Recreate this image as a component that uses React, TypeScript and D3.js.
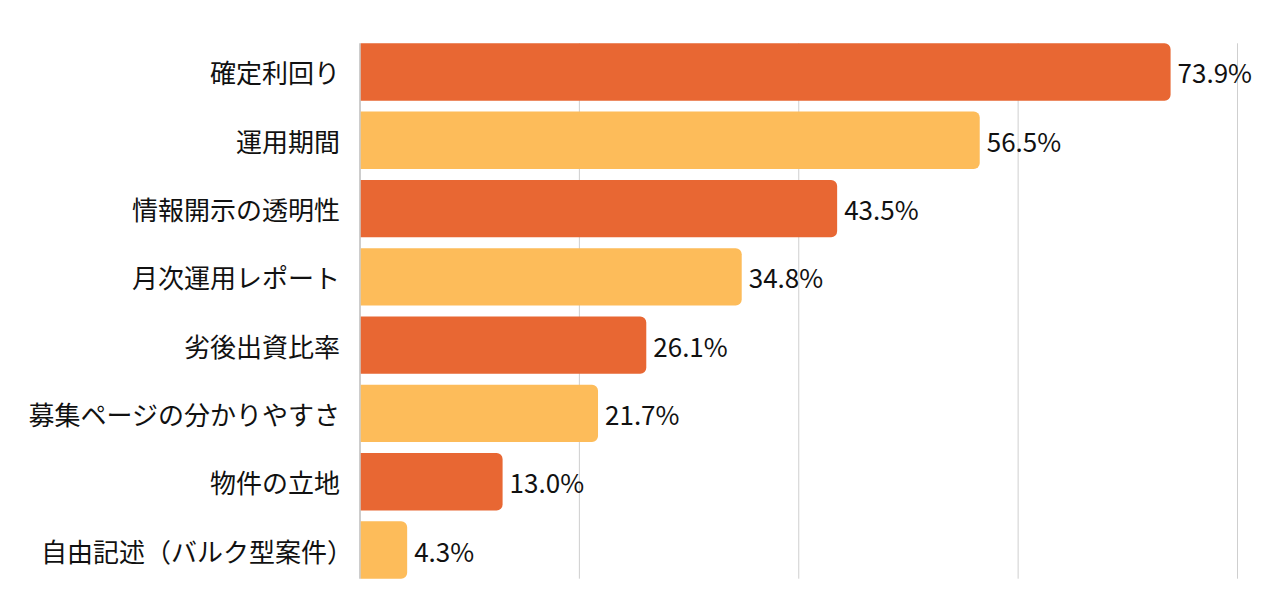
import React from "react";
import * as d3 from "d3";

const categories = [
  "確定利回り",
  "運用期間",
  "情報開示の透明性",
  "月次運用レポート",
  "劣後出資比率",
  "募集ページの分かりやすさ",
  "物件の立地",
  "自由記述（バルク型案件）",
];
const values = [73.9, 56.5, 43.5, 34.8, 26.1, 21.7, 13.0, 4.3];
const ticks = [0, 20, 40, 60, 80];
const colors = ["#E86733", "#FDBC5A"];

const W = 1280;
const H = 612;
const left = 360;
const right = 1237.5;
const top = 43.3;
const bottom = 578.7;
const FS = 26;
const FONT = "'Noto Sans CJK JP', 'Noto Sans', sans-serif";

function barPath(x0: number, y0: number, w: number, h: number, r: number) {
  const rr = Math.min(r, w / 2, h / 2);
  const p = d3.path();
  p.moveTo(x0, y0);
  p.lineTo(x0 + w - rr, y0);
  p.arcTo(x0 + w, y0, x0 + w, y0 + rr, rr);
  p.lineTo(x0 + w, y0 + h - rr);
  p.arcTo(x0 + w, y0 + h, x0 + w - rr, y0 + h, rr);
  p.lineTo(x0, y0 + h);
  p.closePath();
  return p.toString();
}

export default function App() {
  const x = d3.scaleLinear().domain([0, 80]).range([left, right]);
  const y = d3
    .scaleBand<string>()
    .domain(categories)
    .range([top, bottom])
    .paddingInner(0.16)
    .paddingOuter(0);
  const bw = y.bandwidth();

  return (
    <svg
      width={W}
      height={H}
      style={{ position: "absolute", left: 0, top: 0, background: "#fff" }}
      fontFamily={FONT}
    >
      {ticks.map((t) => (
        <line
          key={t}
          x1={x(t)}
          x2={x(t)}
          y1={top}
          y2={bottom}
          stroke={t === 0 ? "#bdbdbd" : "#cfcfcf"}
          strokeWidth={t === 0 ? 1.5 : 1}
        />
      ))}
      {categories.map((c, i) => {
        const y0 = y(c)!;
        const v = values[i];
        const trailingHalf = c.endsWith("）") ? FS / 2 : 0;
        return (
          <g key={c}>
            <path
              d={barPath(x(0) + 0.75, y0, x(v) - x(0) - 0.75, bw, 6)}
              fill={colors[i % 2]}
            />
            <text
              x={340 + trailingHalf}
              y={y0 + bw / 2}
              textAnchor="end"
              dominantBaseline="central"
              fontSize={FS}
              fill="#111"
            >
              {c}
            </text>
            <text
              x={x(v) + 7}
              y={y0 + bw / 2}
              dominantBaseline="central"
              fontSize={FS}
              fill="#111"
            >
              {v.toFixed(1)}%
            </text>
          </g>
        );
      })}
    </svg>
  );
}
